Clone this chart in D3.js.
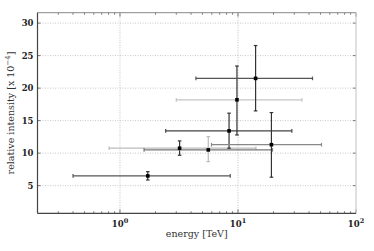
<!DOCTYPE html>
<html>
<head>
<meta charset="utf-8">
<script src="https://cdn.jsdelivr.net/npm/d3@7"></script>
<style>
  body { margin: 0; background: #fff; }
  text { font-family: "DejaVu Serif", "Liberation Serif", serif; }
</style>
</head>
<body>
<div id="chart"></div>
<script>
// energy [TeV] and error-bar extents
var energy     = [1.72, 3.2, 5.6, 8.4, 9.8, 14.1, 19.2];
var energyLow  = [0.40, 0.81, 1.6, 2.44, 3.0, 4.4, 5.96];
var energyHigh = [8.6, 14.2, 19.6, 28.6, 34.8, 42.8, 51];
// relative intensity [x 10^-4]
var intensity     = [6.5, 10.76, 10.5, 13.42, 18.2, 21.5, 11.3];
var intensityLow  = [5.87, 9.68, 8.69, 10.76, 12.8, 16.5, 6.3];
var intensityHigh = [7.15, 11.88, 12.54, 16.15, 23.4, 26.55, 16.24];

var yTicks = [5, 10, 15, 20, 25, 30];
var xTicks = [1, 10, 100];
var xTickExp = ["0", "1", "2"];

// bar colours per point (styling only)
var xerrColor = ["#555", "#bbb", "#777", "#444", "#c4c4c4", "#555", "#888"];
var yerrColor = ["#333", "#333", "#bbb", "#333", "#333", "#333", "#333"];

var W = 374, H = 251,
    margin = {left: 37.5, right: 18, top: 12.7, bottom: 37.7};

var svg = d3.select("#chart").append("svg").attr("width", W).attr("height", H);

var x = d3.scaleLog().domain([0.2, 100]).range([margin.left, W - margin.right]),
    y = d3.scaleLinear().domain([0.75, 31.6]).range([H - margin.bottom, margin.top]);

var x0 = x.range()[0], x1 = x.range()[1], y0 = y.range()[0], y1 = y.range()[1];

// grid
var grid = svg.append("g").attr("stroke-dasharray", "1,1.5").attr("stroke-width", 1);
grid.selectAll("line.gy").data(yTicks).enter().append("line")
    .attr("x1", x0).attr("x2", x1)
    .attr("y1", function(d) { return y(d); }).attr("y2", function(d) { return y(d); })
    .attr("stroke", "#c8c8c8");
grid.selectAll("line.gx").data([1, 10]).enter().append("line")
    .attr("y1", y0).attr("y2", y1)
    .attr("x1", function(d) { return x(d); }).attr("x2", function(d) { return x(d); })
    .attr("stroke", "#c0c0c0");

// ticks: minor logs on bottom/top, inward
var minor = [];
[0.1, 1, 10].forEach(function(b) { for (var k = 2; k <= 9; k++) { var v = b * k; if (v >= 0.2 && v < 100) minor.push(v); } });
var tk = svg.append("g").attr("stroke", "#555").attr("stroke-width", 0.8);
tk.selectAll("line.mb").data(minor).enter().append("line")
    .attr("x1", function(d) { return x(d); }).attr("x2", function(d) { return x(d); })
    .attr("y1", y0).attr("y2", y0 - 2);
tk.selectAll("line.mt").data(minor).enter().append("line")
    .attr("x1", function(d) { return x(d); }).attr("x2", function(d) { return x(d); })
    .attr("y1", y1).attr("y2", y1 + 2);
tk.selectAll("line.Mb").data(xTicks).enter().append("line")
    .attr("x1", function(d) { return x(d); }).attr("x2", function(d) { return x(d); })
    .attr("y1", y0).attr("y2", y0 - 4);
tk.selectAll("line.Mt").data(xTicks).enter().append("line")
    .attr("x1", function(d) { return x(d); }).attr("x2", function(d) { return x(d); })
    .attr("y1", y1).attr("y2", y1 + 4);
tk.selectAll("line.yl").data(yTicks).enter().append("line")
    .attr("x1", x0).attr("x2", x0 + 3)
    .attr("y1", function(d) { return y(d); }).attr("y2", function(d) { return y(d); });
tk.selectAll("line.yr").data(yTicks).enter().append("line")
    .attr("x1", x1).attr("x2", x1 - 3)
    .attr("y1", function(d) { return y(d); }).attr("y2", function(d) { return y(d); });

// frame
svg.append("line").attr("x1", x0).attr("x2", x1).attr("y1", y1).attr("y2", y1).attr("stroke", "#888").attr("stroke-width", 1);
svg.append("line").attr("x1", x1).attr("x2", x1).attr("y1", y0).attr("y2", y1).attr("stroke", "#ccc").attr("stroke-width", 1.2);
svg.append("line").attr("x1", x0).attr("x2", x0).attr("y1", y0).attr("y2", y1).attr("stroke", "#444").attr("stroke-width", 1.2);
svg.append("line").attr("x1", x0).attr("x2", x1).attr("y1", y0).attr("y2", y0).attr("stroke", "#444").attr("stroke-width", 1.2);

// tick labels
svg.selectAll("text.yt").data(yTicks).enter().append("text")
    .attr("x", x0 - 4).attr("y", function(d) { return y(d) + 3; })
    .attr("text-anchor", "end").attr("font-size", 8.5).attr("font-weight", "bold").attr("fill", "#222")
    .text(function(d) { return d; });

var xt = svg.selectAll("text.xt").data(xTicks).enter().append("text")
    .attr("x", function(d) { return x(d); }).attr("y", y0 + 14)
    .attr("text-anchor", "middle").attr("font-size", 8.5).attr("font-weight", "bold").attr("fill", "#222");
xt.append("tspan").text("10");
xt.append("tspan").attr("dy", -4).attr("font-size", 6.5).text(function(d, i) { return xTickExp[i]; });

// axis labels
svg.append("text").attr("x", (x0 + x1) / 2).attr("y", y0 + 24)
    .attr("text-anchor", "middle").attr("font-size", 9.5).attr("fill", "#333")
    .text("energy [TeV]");
var yl = svg.append("text").attr("transform", "translate(14," + ((y0 + y1) / 2) + ") rotate(-90)")
    .attr("text-anchor", "middle").attr("font-size", 9.5).attr("fill", "#333");
yl.append("tspan").text("relative intensity [x 10");
yl.append("tspan").attr("dy", -4).attr("font-size", 7).text("−4");
yl.append("tspan").attr("dy", 4).text("]");

// error bars
var idx = d3.range(energy.length);
var eb = svg.append("g").attr("stroke-width", 1.2);
idx.forEach(function(i) {
    var cx = x(energy[i]), cy = y(intensity[i]);
    var xl = x(energyLow[i]), xh = x(energyHigh[i]);
    var yl0 = y(intensityLow[i]), yh = y(intensityHigh[i]);
    var g = eb.append("g");
    g.append("line").attr("x1", xl).attr("x2", xh).attr("y1", cy).attr("y2", cy).attr("stroke", xerrColor[i]);
    g.append("line").attr("x1", xl).attr("x2", xl).attr("y1", cy - 1.8).attr("y2", cy + 1.8).attr("stroke", xerrColor[i]);
    g.append("line").attr("x1", xh).attr("x2", xh).attr("y1", cy - 1.8).attr("y2", cy + 1.8).attr("stroke", xerrColor[i]);
    g.append("line").attr("x1", cx).attr("x2", cx).attr("y1", yl0).attr("y2", yh).attr("stroke", yerrColor[i]);
    g.append("line").attr("x1", cx - 1.8).attr("x2", cx + 1.8).attr("y1", yl0).attr("y2", yl0).attr("stroke", yerrColor[i]);
    g.append("line").attr("x1", cx - 1.8).attr("x2", cx + 1.8).attr("y1", yh).attr("y2", yh).attr("stroke", yerrColor[i]);
});

svg.selectAll("rect.pt").data(idx).enter().append("rect")
    .attr("x", function(i) { return x(energy[i]) - 1.8; })
    .attr("y", function(i) { return y(intensity[i]) - 1.8; })
    .attr("width", 3.6).attr("height", 3.6).attr("fill", "#000");
</script>
</body>
</html>
